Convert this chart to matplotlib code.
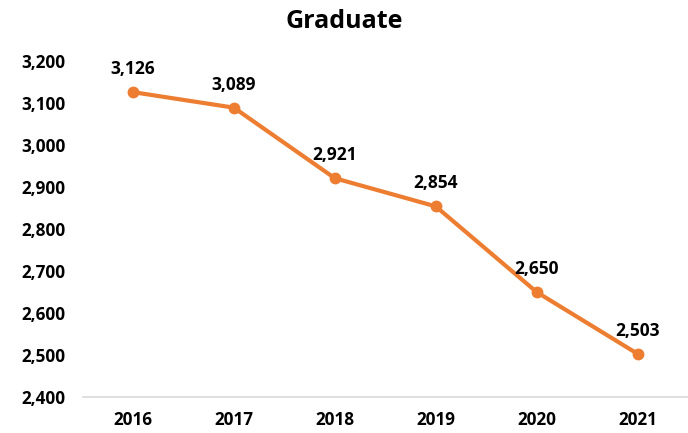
import matplotlib.pyplot as plt
from matplotlib.ticker import FuncFormatter

years = ['2016', '2017', '2018', '2019', '2020', '2021']
graduates = [3126, 3089, 2921, 2854, 2650, 2503]

orange = '#ED7D31'
plt.rcParams['font.family'] = ['Open Sans', 'DejaVu Sans']

fig = plt.figure(figsize=(6.88, 4.33), dpi=100)
ax = fig.add_axes([0.12, 0.083, 0.88, 0.776])

x = list(range(len(years)))
ax.plot(x, graduates, color=orange, lw=3, marker='o', ms=7.5, solid_capstyle='round')

for xi, v in zip(x, graduates):
    ax.annotate(f'{v:,}', (xi, v), xytext=(0, 10), textcoords='offset points',
                ha='center', va='bottom', fontsize=12.5, fontweight='bold', color='black')

ax.set_xlim(-0.5, 5.5)
ax.set_ylim(2400, 3200)
ax.set_yticks(range(2400, 3201, 100))
ax.yaxis.set_major_formatter(FuncFormatter(lambda v, p: f'{int(v):,}'))
ax.set_xticks(x)
ax.set_xticklabels(years)

for s in ['top', 'right', 'left']:
    ax.spines[s].set_visible(False)
ax.spines['bottom'].set_color('#D9D9D9')
ax.spines['bottom'].set_linewidth(1.2)
ax.tick_params(length=0, labelsize=12.3)
ax.tick_params(axis='y', pad=12)
ax.tick_params(axis='x', pad=10)
for lab in ax.get_xticklabels() + ax.get_yticklabels():
    lab.set_fontweight('bold')

fig.suptitle('Graduate', x=0.5, y=0.98, fontsize=18, fontweight='bold')

fig.savefig('out.png', dpi=100)
